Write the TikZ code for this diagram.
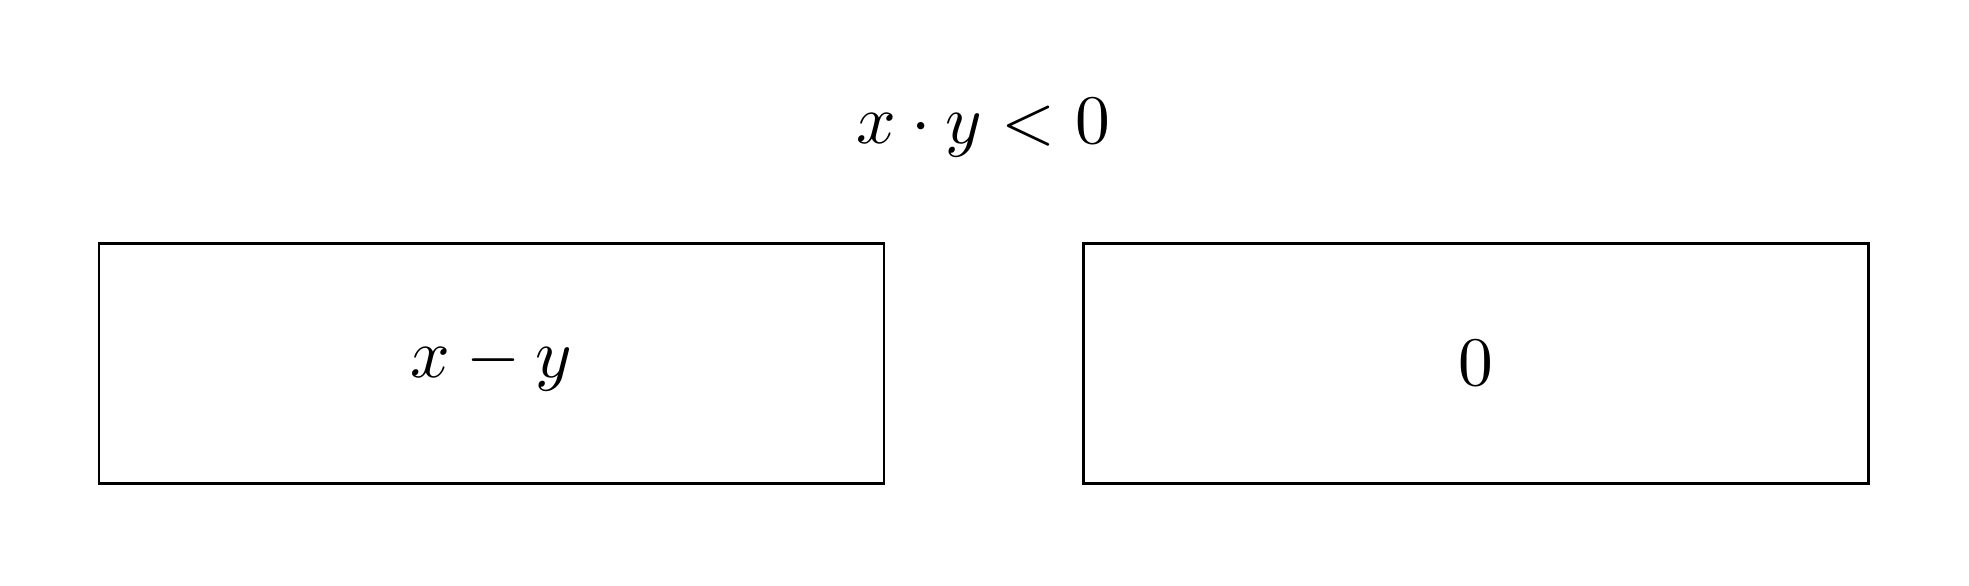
\documentclass[tikz,border=0pt]{standalone}
\usepackage{amsmath}
\usepackage{tikz}
\usetikzlibrary{positioning}

\begin{document}
\begin{tikzpicture}[x=0.1439pt, y=-0.1439pt,
            casebox/.style={draw, minimum width=112.95pt, minimum height=34.53pt, inner sep=0pt}]
            % Cadre
            \useasboundingbox (0,0) rectangle (1969,585);

            % Condition
            \node[anchor=base] (cond) at (983,143) {$x \cdot y < 0$};

            % Les deux cas
            \node[casebox] (vrai) at (491.5,363.5) {$x - y$};
            \node[casebox] (faux) at (1476,363.5) {$0$};
        \end{tikzpicture}
\end{document}
